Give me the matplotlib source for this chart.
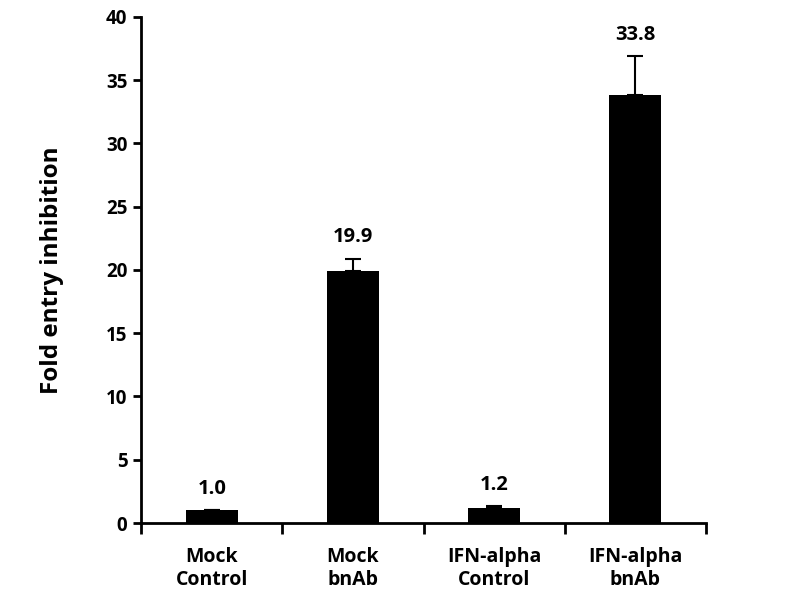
import matplotlib.pyplot as plt
import numpy as np

plt.rcParams["font.family"] = ["Open Sans", "DejaVu Sans"]
plt.rcParams["font.weight"] = "bold"

categories = ["Mock\nControl", "Mock\nbnAb", "IFN-alpha\nControl", "IFN-alpha\nbnAb"]
values = [1.0, 19.9, 1.2, 33.8]
errors = [0.05, 1.0, 0.15, 3.1]
labels = ["1.0", "19.9", "1.2", "33.8"]

fig = plt.figure(figsize=(7.85, 5.94), dpi=100)
ax = fig.add_axes([0.18, 0.1195, 0.719, 0.852])

x = np.arange(len(values))
ax.bar(x, values, width=0.37, color="black", zorder=2)
ax.errorbar(x, values, yerr=[np.zeros(len(errors)), errors], fmt="none",
            ecolor="black", elinewidth=1.5, capsize=6, capthick=1.5, zorder=3)

for xi, v, e, lab in zip(x, values, errors, labels):
    ax.annotate(lab, (xi, v + e), xytext=(0, 8), textcoords="offset points",
                ha="center", va="bottom", fontsize=14.5, fontweight="bold")

ax.set_xlim(-0.5, 3.5)
ax.set_ylim(0, 40)
ax.set_yticks(np.arange(0, 41, 5))
ax.set_xticks(np.arange(-0.5, 3.6, 1.0))
ax.set_xticklabels([])
ax.set_xticks(x, minor=True)
ax.set_xticklabels(categories, minor=True, fontsize=14, fontweight="bold",
                   linespacing=1.25)
ax.tick_params(axis="x", which="major", direction="out", length=8, width=2)
ax.tick_params(axis="x", which="minor", length=0, pad=17)
ax.tick_params(axis="y", direction="out", length=6, width=2, labelsize=13.5, pad=4)
for t in ax.get_yticklabels():
    t.set_fontweight("bold")

for s in ["top", "right"]:
    ax.spines[s].set_visible(False)
for s in ["left", "bottom"]:
    ax.spines[s].set_linewidth(2)

ax.set_ylabel("Fold entry inhibition", fontsize=17.5, fontweight="bold", labelpad=30)

plt.savefig("out.png", dpi=100)
